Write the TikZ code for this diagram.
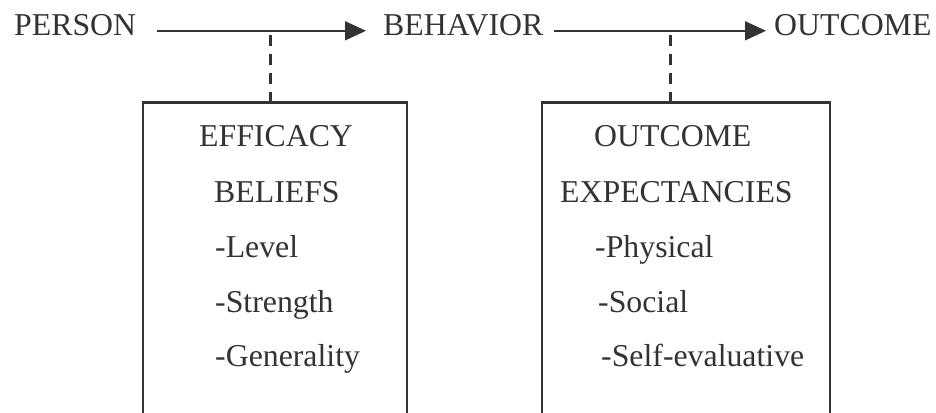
\documentclass[tikz,border=0pt]{standalone}
\usepackage{fontspec}
\setmainfont{Liberation Serif}
\usetikzlibrary{arrows.meta}
\definecolor{ink}{HTML}{333333}
\tikzset{
  lbl/.style={inner sep=0pt, anchor=base west, text=ink, font=\fontsize{31.8}{38}\selectfont},
  arr/.style={draw=ink, line width=1.6pt, -{Triangle[length=21pt,width=19pt]}},
  dsh/.style={draw=ink, line width=3pt, dash pattern=on 11pt off 8pt},
  frame/.style={draw=ink, line width=2.8pt}
}
\begin{document}
\begin{tikzpicture}[x=1pt,y=-1pt]
\useasboundingbox (0,0) rectangle (936,412);
% top row
\node[lbl] (person) at (14,35.7) {PERSON};
\node[lbl] (behavior) at (383,35.7) {BEHAVIOR};
\node[lbl] (outcome) at (774,35.7) {OUTCOME};
\draw[arr] ([xshift=21pt,yshift=4.9pt]person.base east) -- ([xshift=-17pt,yshift=4.9pt]behavior.base west);
\draw[arr] ([xshift=10pt,yshift=4.9pt]behavior.base east) -- ([xshift=-8pt,yshift=4.9pt]outcome.base west);
% boxes (open at the bottom, running past the edge)
\coordinate (b1top) at (270,103);
\coordinate (b2top) at (670,103);
\coordinate (m1) at (270,35);
\coordinate (m2) at (670,35);
\draw[frame] (143,416) -- (143,102.5) -- (407,102.5) -- (407,416);
\draw[frame] (542,416) -- (542,102.5) -- (830,102.5) -- (830,416);
\draw[dsh] (m1) -- (b1top);
\draw[dsh] (m2) -- (b2top);
% box 1 text
\node[lbl] (e1) at (199,146) {EFFICACY};
\node[lbl] (e2) at (214,202) {BELIEFS};
\node[lbl] (e3) at (215,257) {-Level};
\node[lbl] (e4) at (215,312) {-Strength};
\node[lbl] (e5) at (215,366) {-Generality};
% box 2 text
\node[lbl] (o1) at (594,146) {OUTCOME};
\node[lbl] (o2) at (560,202) {EXPECTANCIES};
\node[lbl] (o3) at (595,257) {-Physical};
\node[lbl] (o4) at (598,312) {-Social};
\node[lbl] (o5) at (601,366) {-Self-evaluative};
\end{tikzpicture}
\end{document}
